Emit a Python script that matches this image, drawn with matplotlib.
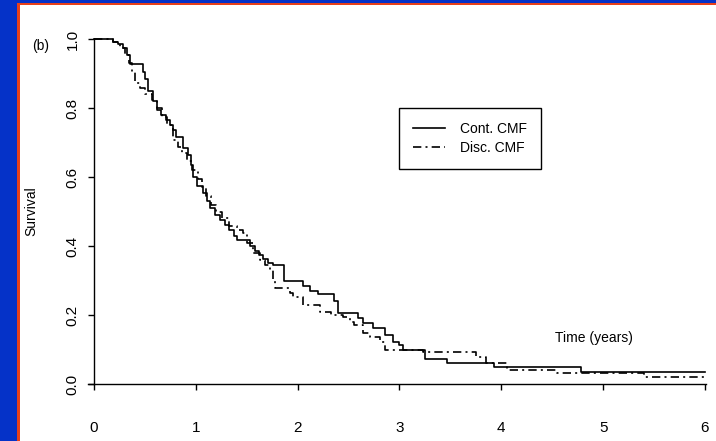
import matplotlib
matplotlib.use("Agg")
import matplotlib.pyplot as plt
from matplotlib.patches import Rectangle

plt.rcParams['font.family'] = ['Liberation Sans', 'DejaVu Sans']

# Kaplan-Meier step curves (time in years, survival)
cont_t = [0.00, 0.19, 0.24, 0.28, 0.32, 0.35, 0.48, 0.50, 0.53, 0.58, 0.62, 0.66,
          0.71, 0.75, 0.78, 0.81, 0.87, 0.92, 0.95, 0.97, 1.01, 1.07, 1.11, 1.14,
          1.19, 1.24, 1.29, 1.33, 1.37, 1.40, 1.53, 1.58, 1.62, 1.66, 1.71, 1.76,
          1.87, 2.05, 2.12, 2.20, 2.36, 2.40, 2.59, 2.64, 2.74, 2.86, 2.94, 3.00,
          3.03, 3.25, 3.47, 3.93, 4.78, 6.00]
cont_s = [1.000, 0.990, 0.985, 0.975, 0.955, 0.928, 0.905, 0.885, 0.850, 0.820, 0.795, 0.780,
          0.765, 0.750, 0.735, 0.716, 0.684, 0.665, 0.635, 0.600, 0.575, 0.554, 0.530, 0.510,
          0.490, 0.475, 0.460, 0.446, 0.430, 0.417, 0.400, 0.385, 0.375, 0.362, 0.350, 0.345,
          0.300, 0.285, 0.270, 0.262, 0.240, 0.206, 0.190, 0.177, 0.162, 0.142, 0.122, 0.113,
          0.099, 0.072, 0.061, 0.049, 0.035, 0.035]

disc_t = [0.00, 0.19, 0.26, 0.30, 0.34, 0.37, 0.40, 0.45, 0.50, 0.57, 0.62, 0.67,
          0.72, 0.78, 0.82, 0.86, 0.91, 0.96, 1.02, 1.06, 1.10, 1.15, 1.20, 1.26,
          1.33, 1.40, 1.46, 1.50, 1.56, 1.63, 1.68, 1.73, 1.76, 1.78, 1.92, 1.95,
          2.05, 2.22, 2.33, 2.45, 2.51, 2.55, 2.64, 2.71, 2.81, 2.86, 3.23, 3.75,
          3.85, 4.06, 4.55, 5.40, 6.00]
disc_s = [1.000, 0.990, 0.975, 0.955, 0.930, 0.905, 0.872, 0.858, 0.840, 0.823, 0.800, 0.775,
          0.750, 0.707, 0.687, 0.670, 0.645, 0.620, 0.595, 0.570, 0.545, 0.520, 0.500, 0.480,
          0.458, 0.447, 0.437, 0.408, 0.379, 0.359, 0.345, 0.330, 0.300, 0.278, 0.265, 0.252,
          0.229, 0.209, 0.200, 0.195, 0.180, 0.171, 0.148, 0.136, 0.122, 0.099, 0.093, 0.078,
          0.061, 0.041, 0.032, 0.020, 0.020]

labels = ["Cont. CMF", "Disc. CMF"]
x_ticks = [0, 1, 2, 3, 4, 5, 6]
y_ticks = [0.0, 0.2, 0.4, 0.6, 0.8, 1.0]

W, H = 716, 441
fig = plt.figure(figsize=(W / 100, H / 100), dpi=100)
fig.patch.set_facecolor('#0532c8')
# slide frame: red edge, white panel
fig.patches.append(Rectangle((17 / W, 0), 1, 1 - 3 / H, transform=fig.transFigure,
                             facecolor='#e8401a', edgecolor='none', zorder=-2))
fig.patches.append(Rectangle((20 / W, 0), 1, 1 - 5 / H, transform=fig.transFigure,
                             facecolor='white', edgecolor='none', zorder=-1))

ax = fig.add_axes([88 / W, 57 / H, (706 - 88) / W, 345 / H])
ax.patch.set_alpha(0)

ax.step(cont_t, cont_s, where='post', color='black', lw=1.2, label=labels[0], clip_on=False)
ax.step(disc_t, disc_s, where='post', color='black', lw=1.2,
        linestyle=(0, (5, 2.5, 1.2, 2.5)), label=labels[1], clip_on=False)

ax.set_xlim(-0.059, 6.01)
ax.set_ylim(0, 1)
ax.spines['top'].set_visible(False)
ax.spines['right'].set_visible(False)
ax.spines['left'].set_position(('data', 0))
ax.spines['left'].set_linewidth(1.0)
ax.spines['bottom'].set_linewidth(1.0)

ax.set_xticks(x_ticks)
ax.set_xticklabels([str(v) for v in x_ticks])
ax.set_yticks(y_ticks)
ax.set_yticklabels([f"{v:.1f}" for v in y_ticks])
ax.tick_params(axis='x', direction='out', length=4.5, width=1.0, pad=22, labelsize=11)
ax.tick_params(axis='y', direction='out', length=4.5, width=1.0, pad=6, labelsize=11,
               labelrotation=90)
for lab in ax.get_yticklabels():
    lab.set_va('center')

ax.set_ylabel("Survival", fontsize=10)
ax.yaxis.set_label_coords(-0.081, 0.5)

fig.text(41 / W, 1 - 46 / H, "(b)", ha='center', va='center', fontsize=10)
ax.text(4.91, 0.133, "Time (years)", ha='center', va='center', fontsize=10)

leg = ax.legend(loc='upper left', bbox_to_anchor=(399 / W, 1 - 108 / H),
                bbox_transform=fig.transFigure, fancybox=False, framealpha=1,
                edgecolor='black', borderaxespad=0, handlelength=2.3,
                handletextpad=1.1, labelspacing=0.35, borderpad=1.0, fontsize=10)
leg.get_frame().set_linewidth(1.0)

fig.savefig("out.png", dpi=100, facecolor=fig.get_facecolor())
